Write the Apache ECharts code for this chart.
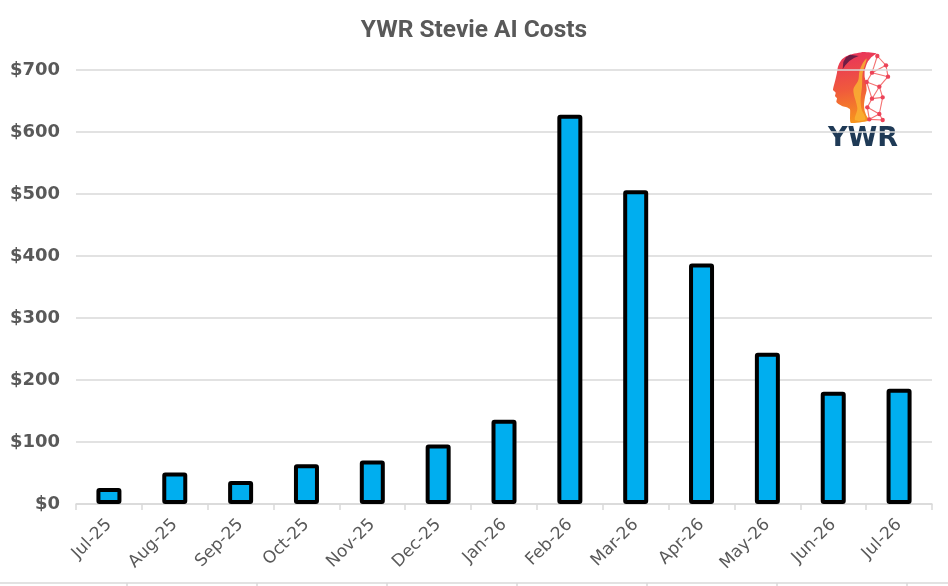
<!DOCTYPE html>
<html lang="en">
<head>
  <meta charset="UTF-8">
  <script src="https://cdn.jsdelivr.net/npm/echarts@6/dist/echarts.min.js"></script>
  <title>YWR Stevie AI Costs</title>
  <style>
    html, body { margin: 0; padding: 0; background: #ffffff; }
    #chart { width: 948px; height: 586px; }
  </style>
</head>
<body>
  <div id="chart"></div>

<script>
  // data
  const months = ['Jul-25', 'Aug-25', 'Sep-25', 'Oct-25', 'Nov-25', 'Dec-25', 'Jan-26',
                  'Feb-26', 'Mar-26', 'Apr-26', 'May-26', 'Jun-26', 'Jul-26'];
  const costs = [26, 51, 37, 64, 70, 96, 136, 628, 506, 388, 244, 181, 186];

  const GRAY = '#595959';
  const GRID = '#d9d9d9';

  // logo: head outline + network nodes (coords in a 3x local space, origin 800,40)
  const headPts = [[150, 44], [136, 50], [126, 58], [118, 70], [113, 84], [111, 98], [106, 120],
    [99, 150], [107, 158], [105, 168], [111, 175], [109, 186], [117, 193], [128, 199], [140, 202],
    [150, 208], [152, 248], [208, 242], [200, 228], [194, 212], [192, 195], [195, 172], [200, 150],
    [198, 128], [194, 110], [194, 92], [198, 78], [204, 64], [212, 54], [222, 46], [230, 40], [190, 36]];
  const glowPts = [[160, 150], [175, 120], [178, 95], [188, 70], [200, 56], [188, 100], [186, 140],
    [182, 175], [184, 205], [196, 238], [165, 240], [172, 205]];
  const stripePts = [[150, 44], [138, 52], [130, 66], [128, 88], [136, 76], [148, 63], [162, 54], [176, 48]];
  const nodes = [[232, 48], [258, 76], [216, 98], [264, 110], [238, 140], [200, 126],
                 [248, 172], [216, 176], [202, 202], [238, 222], [208, 238], [248, 240]];
  const links = [[0, 1], [0, 2], [1, 3], [2, 3], [2, 5], [3, 4], [4, 5], [4, 6], [4, 7],
                 [5, 7], [6, 7], [7, 8], [6, 9], [8, 9], [8, 10], [9, 10], [9, 11], [10, 11], [1, 2]];

  const lp = p => [800 + p[0] / 3, 40 + p[1] / 3];

  function logoElements() {
    const els = [];
    els.push({
      type: 'polygon',
      shape: { points: headPts.map(lp), smooth: 0.15 },
      style: {
        fill: {
          type: 'linear', x: 0, y: 0, x2: 0.3, y2: 1,
          colorStops: [
            { offset: 0, color: '#e8305e' },
            { offset: 0.55, color: '#f05a3c' },
            { offset: 1, color: '#f7941d' }
          ]
        }
      }
    });
    els.push({
      type: 'polygon',
      shape: { points: glowPts.map(lp), smooth: 0.3 },
      style: { fill: '#f9b233', opacity: 0.85 }
    });
    els.push({
      type: 'polygon',
      shape: { points: stripePts.map(lp) },
      style: { fill: '#6e1d45' }
    });
    links.forEach(l => {
      const a = lp(nodes[l[0]]), b = lp(nodes[l[1]]);
      els.push({
        type: 'line',
        shape: { x1: a[0], y1: a[1], x2: b[0], y2: b[1] },
        style: { stroke: '#f47070', lineWidth: 1.1 }
      });
    });
    nodes.forEach(n => {
      const c = lp(n);
      els.push({
        type: 'circle',
        shape: { cx: c[0], cy: c[1], r: 2.2 },
        style: { fill: '#ec4358' }
      });
    });
    els.push({
      type: 'text',
      x: 863, y: 139,
      style: {
        text: 'YWR',
        fill: '#1f3a56',
        font: 'bold 27px "DejaVu Sans"',
        align: 'center',
        verticalAlign: 'middle'
      }
    });
    return els;
  }

  // spreadsheet cell border at the bottom
  function bottomGrid() {
    const els = [{
      type: 'line',
      shape: { x1: 0, y1: 583, x2: 948, y2: 583 },
      style: { stroke: GRID, lineWidth: 1.5 }
    }];
    [127, 257, 387, 517, 647, 777, 907].forEach(x => {
      els.push({
        type: 'line',
        shape: { x1: x, y1: 583, x2: x, y2: 586 },
        style: { stroke: GRID, lineWidth: 1.5 }
      });
    });
    return els;
  }

  const chart = echarts.init(document.getElementById('chart'));
  const option = {
    backgroundColor: '#ffffff',
    animation: false,
    title: {
      text: 'YWR Stevie AI Costs',
      left: 'center',
      top: 13,
      textStyle: {
        fontFamily: 'Roboto',
        fontWeight: 'bold',
        fontSize: 24.5,
        color: GRAY
      }
    },
    grid: {
      left: 76,
      right: 16,
      top: 70,
      bottom: 82
    },
    xAxis: {
      type: 'category',
      data: months,
      axisLine: { lineStyle: { color: GRID, width: 1.5 } },
      axisTick: { show: true, length: 6, lineStyle: { color: GRID, width: 1.5 } },
      axisLabel: {
        rotate: 45,
        margin: 18,
        interval: 0,
        fontFamily: 'DejaVu Sans',
        fontSize: 17,
        color: GRAY
      }
    },
    yAxis: {
      type: 'value',
      min: 0,
      max: 700,
      interval: 100,
      axisLine: { show: false },
      axisTick: { show: false },
      splitLine: { lineStyle: { color: GRID, width: 1.5 } },
      axisLabel: {
        margin: 16,
        fontFamily: 'DejaVu Sans',
        fontWeight: 'bold',
        fontSize: 18,
        color: GRAY,
        formatter: v => '$' + v
      }
    },
    series: [{
      type: 'bar',
      data: costs,
      barWidth: 25,
      itemStyle: {
        color: '#00AEEF',
        borderColor: '#000000',
        borderWidth: 4,
        borderRadius: 1
      }
    }],
    graphic: logoElements().concat(bottomGrid())
  };
  chart.setOption(option);
</script>
</body>
</html>
